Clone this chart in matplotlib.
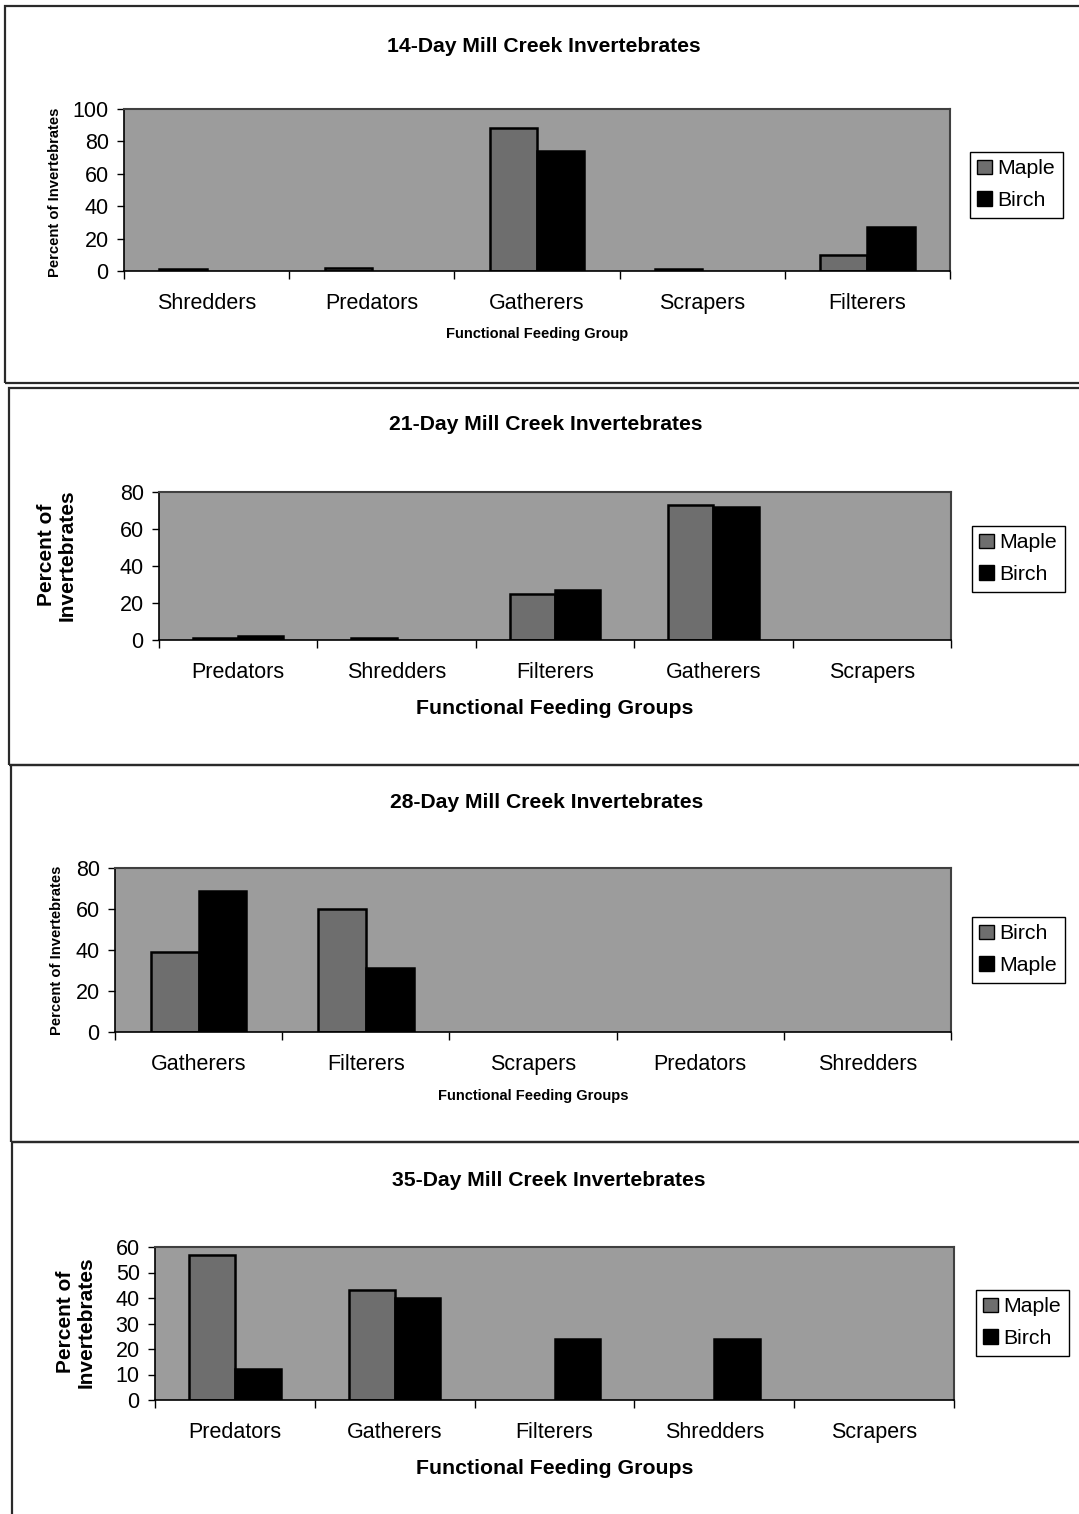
import numpy as np
import matplotlib.pyplot as plt
from matplotlib.patches import Rectangle, Patch

# percent of invertebrates per functional feeding group, by sampling day
cats_14 = ["Shredders", "Predators", "Gatherers", "Scrapers", "Filterers"]
maple_14 = [1, 2, 88, 1, 10]
birch_14 = [0, 0, 74, 0, 27]

cats_21 = ["Predators", "Shredders", "Filterers", "Gatherers", "Scrapers"]
maple_21 = [1, 1, 25, 73, 0]
birch_21 = [2, 0, 27, 72, 0]

cats_28 = ["Gatherers", "Filterers", "Scrapers", "Predators", "Shredders"]
birch_28 = [39, 60, 0, 0, 0]
maple_28 = [69, 31, 0, 0, 0]

cats_35 = ["Predators", "Gatherers", "Filterers", "Shredders", "Scrapers"]
maple_35 = [57, 43, 0, 0, 0]
birch_35 = [12, 40, 24, 24, 0]

W, H = 1079, 1514
plt.rcParams['font.family'] = ['Liberation Sans', 'DejaVu Sans']

fig = plt.figure(figsize=(W / 100, H / 100), dpi=100)
fig.patch.set_facecolor('white')

GRAY_BAR = '#6e6e6e'
PLOT_BG = '#9c9c9c'


def px_text(x, y, s, **kw):
    fig.text(x / W, 1 - y / H, s, ha='center', va='center', **kw)


def panel(box, area, cats, series, names, colors, ymax, ystep,
          title, title_xy, xlab, xlab_xy, xlab_big, ylab, ylab_xy, ylab_big, leg):
    # outer chart border
    bx0, by0, bx1, by1 = box
    fig.patches.append(Rectangle((bx0 / W, 1 - by1 / H), (bx1 - bx0) / W, (by1 - by0) / H,
                                 transform=fig.transFigure, fill=False,
                                 edgecolor='#2a2a2a', lw=1.6))
    x0, y0, x1, y1 = area
    ax = fig.add_axes([x0 / W, 1 - y1 / H, (x1 - x0) / W, (y1 - y0) / H])
    ax.set_facecolor(PLOT_BG)
    n = len(cats)
    w = 1 / 3.5
    pos = np.arange(n) + 0.5
    for k, (vals, c) in enumerate(zip(series, colors)):
        off = (k - 0.5) * w
        # empty groups get no outline
        lws = [1.8 if v > 0 else 0 for v in vals]
        ax.bar(pos + off, vals, width=w, color=c, edgecolor='black', linewidth=lws)
    ax.set_xlim(0, n)
    ax.set_ylim(0, ymax)
    ax.set_yticks(np.arange(0, ymax + 1, ystep))
    ax.set_xticks(np.arange(n + 1))
    ax.set_xticklabels([])
    ax.set_xticks(pos, cats, minor=True)
    ax.tick_params(axis='x', which='major', length=6, width=1, direction='out')
    ax.tick_params(axis='x', which='minor', length=0, pad=16, labelsize=15.5)
    ax.tick_params(axis='y', length=5, width=1, pad=6, labelsize=15.5)
    for s in ['left', 'bottom']:
        ax.spines[s].set_color('black')
        ax.spines[s].set_linewidth(1.2)
    for s in ['top', 'right']:
        ax.spines[s].set_color('#404040')
        ax.spines[s].set_linewidth(1.5)

    px_text(*title_xy, title, fontsize=15.2, fontweight='bold')
    px_text(*xlab_xy, xlab, fontsize=15.3 if xlab_big else 10.5,
            fontweight='bold')
    px_text(*ylab_xy, ylab, fontsize=15 if ylab_big else 10.6,
            fontweight='bold', rotation=90, linespacing=1.1)

    handles = [Patch(facecolor=c, edgecolor='black', lw=1) for c in colors]
    lx0, ly0 = leg
    ax.legend(handles, names, loc='upper left',
              bbox_to_anchor=(lx0 / W, 1 - ly0 / H), bbox_transform=fig.transFigure,
              fancybox=False, edgecolor='black', framealpha=1, fontsize=15.3,
              handlelength=0.7, handleheight=0.7, handletextpad=0.25,
              labelspacing=0.6, borderpad=0.35, borderaxespad=0)
    ax.get_legend().get_frame().set_linewidth(1.0)
    return ax


panel((5, 6, 1090, 383), (124, 109, 950, 271), cats_14,
      [maple_14, birch_14], ["Maple", "Birch"], [GRAY_BAR, 'black'], 100, 20,
      "14-Day Mill Creek Invertebrates", (544, 46),
      "Functional Feeding Group", (537, 334), False,
      "Percent of Invertebrates", (55, 192), False, (970, 152))

panel((9, 388, 1090, 765), (159, 492, 951, 640), cats_21,
      [maple_21, birch_21], ["Maple", "Birch"], [GRAY_BAR, 'black'], 80, 20,
      "21-Day Mill Creek Invertebrates", (546, 424),
      "Functional Feeding Groups", (555, 709), True,
      "Percent of\nInvertebrates", (57, 555), True, (972, 526))

panel((11, 765, 1090, 1142), (115, 868, 951, 1032), cats_28,
      [birch_28, maple_28], ["Birch", "Maple"], [GRAY_BAR, 'black'], 80, 20,
      "28-Day Mill Creek Invertebrates", (547, 802),
      "Functional Feeding Groups", (533, 1096), False,
      "Percent of Invertebrates", (57, 950), False, (972, 917))

panel((12, 1142, 1090, 1530), (155, 1247, 954, 1400), cats_35,
      [maple_35, birch_35], ["Maple", "Birch"], [GRAY_BAR, 'black'], 60, 10,
      "35-Day Mill Creek Invertebrates", (549, 1181),
      "Functional Feeding Groups", (555, 1469), True,
      "Percent of\nInvertebrates", (76, 1322), True, (976, 1290))

fig.savefig('out.png', dpi=100)
